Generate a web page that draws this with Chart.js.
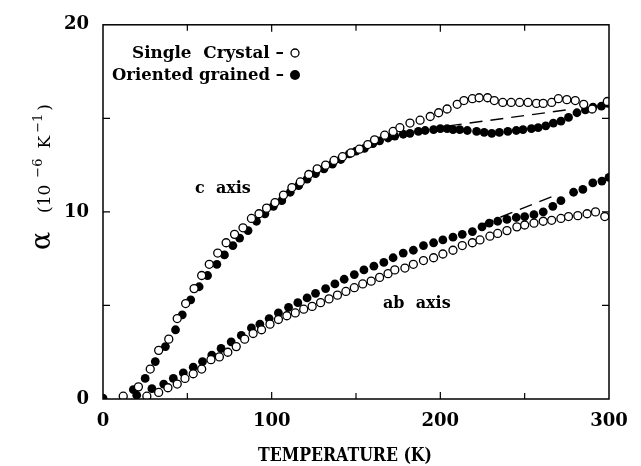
<!DOCTYPE html>
<html lang="en">
<head>
<meta charset="UTF-8" />
<title>Thermal expansion</title>
<style>
  body { margin: 0; background: #fff; }
  #wrapper { width: 641px; height: 466px; }
</style>
</head>
<body>
<div id="wrapper">
  <canvas id="chart" width="641" height="466"></canvas>
</div>
<script src="https://cdn.jsdelivr.net/npm/chart.js@4/dist/chart.umd.min.js"></script>
<script>
// c axis, single crystal (open circles)
const tSingleC = [12, 21, 28, 33, 39, 44, 49, 54, 58.5, 63, 68, 73, 78, 83, 88, 92.5, 97, 102, 107, 112, 117, 122, 127, 132, 137, 142, 147, 152, 157, 161, 167, 172, 176, 182, 188, 194, 199, 204, 210, 214, 219, 223, 228, 232, 237, 242, 247, 252, 257, 261, 266, 270, 275, 280, 285, 290, 299];
const aSingleC = [0.15, 0.65, 1.6, 2.6, 3.2, 4.3, 5.1, 5.9, 6.6, 7.2, 7.8, 8.35, 8.8, 9.15, 9.65, 9.9, 10.2, 10.5, 10.9, 11.3, 11.6, 12.0, 12.3, 12.5, 12.75, 12.95, 13.15, 13.35, 13.6, 13.85, 14.1, 14.3, 14.5, 14.75, 14.9, 15.1, 15.3, 15.5, 15.75, 15.95, 16.05, 16.1, 16.1, 15.95, 15.85, 15.85, 15.85, 15.85, 15.8, 15.8, 15.85, 16.05, 16.0, 15.95, 15.75, 15.5, 15.9];

// c axis, oriented grained (filled)
const tGrainC = [18, 25, 31, 37, 43, 47, 52, 57, 62, 67.5, 72, 77, 81, 86, 91, 96, 101, 106, 111, 116, 121, 126, 131, 136, 141, 146, 150, 155, 160, 164, 169, 173, 178, 182, 187, 191, 196, 200, 204, 207.5, 211.5, 216, 221.5, 226, 230.5, 235, 240, 245, 249, 254, 258, 262.5, 267, 271.5, 276, 281, 286, 290.5, 295.5, 299.5];
const aGrainC = [0.5, 1.1, 2.0, 2.8, 3.7, 4.5, 5.3, 6.0, 6.6, 7.2, 7.7, 8.2, 8.6, 9.0, 9.5, 9.9, 10.3, 10.6, 11.05, 11.4, 11.75, 12.05, 12.3, 12.55, 12.8, 13.1, 13.25, 13.4, 13.65, 13.8, 13.95, 14.05, 14.15, 14.2, 14.3, 14.35, 14.4, 14.45, 14.45, 14.4, 14.4, 14.35, 14.3, 14.25, 14.2, 14.25, 14.3, 14.35, 14.4, 14.45, 14.5, 14.6, 14.75, 14.85, 15.05, 15.3, 15.45, 15.6, 15.65, 15.8];

// ab axis, single crystal (open)
const tSingleAB = [26, 33, 38.5, 44, 48.6, 53.5, 58.5, 64, 69, 74, 79, 84, 89, 94, 99, 104, 109, 114, 119, 124, 129, 134, 139, 144, 149, 154, 159, 164, 169, 173, 179, 184, 190, 196, 201.5, 207.5, 213, 219, 223.5, 229.4, 234, 239.5, 245.4, 250, 255.5, 261, 266, 271.5, 276, 281.5, 287, 292, 297.5];
const aSingleAB = [0.15, 0.35, 0.6, 0.8, 1.1, 1.35, 1.6, 2.1, 2.25, 2.5, 2.8, 3.2, 3.5, 3.7, 4.0, 4.25, 4.45, 4.6, 4.8, 4.95, 5.15, 5.35, 5.55, 5.75, 5.95, 6.15, 6.3, 6.5, 6.7, 6.9, 7.0, 7.2, 7.4, 7.55, 7.75, 7.95, 8.2, 8.35, 8.5, 8.7, 8.85, 9.0, 9.2, 9.3, 9.4, 9.5, 9.55, 9.65, 9.75, 9.8, 9.9, 10.0, 9.75];

// ab axis, oriented grained (filled)
const tGrainAB = [0, 20, 29, 36, 41.7, 47.6, 53.5, 59, 64.5, 70, 76, 82, 88, 93, 98.5, 104, 110, 115.5, 121, 126, 132, 137.5, 143, 149, 154.7, 160.6, 166.5, 172, 178, 184, 190, 196, 201.5, 207.5, 213, 219, 224.7, 229, 234, 239.5, 245, 250, 255.5, 261, 266.7, 271.5, 279, 284.5, 290.4, 295.8, 300];
const aGrainAB = [0.05, 0.2, 0.55, 0.8, 1.1, 1.4, 1.7, 2.0, 2.35, 2.7, 3.05, 3.4, 3.8, 4.0, 4.3, 4.6, 4.9, 5.15, 5.4, 5.65, 5.9, 6.15, 6.4, 6.65, 6.9, 7.1, 7.3, 7.55, 7.8, 7.95, 8.2, 8.35, 8.5, 8.65, 8.8, 8.95, 9.2, 9.4, 9.5, 9.6, 9.7, 9.75, 9.85, 10.0, 10.3, 10.6, 11.05, 11.2, 11.55, 11.65, 11.85];

// dashed guide lines
const tDashC = [205, 279];
const aDashC = [14.6, 15.5];
const tDashAB = [224, 270];
const aDashAB = [9.3, 10.95];

const xTicks = [0, 100, 200, 300];
const yTicks = [0, 10, 20];

const serif = '"DejaVu Serif", serif';

function pts(xs, ys) {
  return xs.map((x, i) => ({ x: x, y: ys[i] }));
}

function openSet(xs, ys) {
  return {
    data: pts(xs, ys), showLine: false, pointRadius: 4, pointBorderWidth: 1.3,
    pointBackgroundColor: "#fff", pointBorderColor: "#000"
  };
}
function filledSet(xs, ys) {
  return {
    data: pts(xs, ys), showLine: false, pointRadius: 4.4, pointBorderWidth: 0,
    pointBackgroundColor: "#000", pointBorderColor: "#000"
  };
}
function dashSet(xs, ys) {
  return {
    data: pts(xs, ys), showLine: true, pointRadius: 0, borderColor: "#000",
    borderWidth: 1.4, borderDash: [13, 8]
  };
}

// frame, inside ticks and text labels
const decor = {
  id: "decor",
  afterDatasetsDraw(chart) {
    const ctx = chart.ctx;
    const a = chart.chartArea;
    const xs = chart.scales.x, ys = chart.scales.y;
    ctx.save();
    ctx.strokeStyle = "#000";
    ctx.lineWidth = 1.5;
    ctx.strokeRect(a.left, a.top, a.right - a.left, a.bottom - a.top);

    ctx.lineWidth = 1.2;
    ctx.beginPath();
    [50, 100, 150, 200, 250].forEach(v => {
      const px = xs.getPixelForValue(v);
      const len = v % 100 === 0 ? 7 : 6;
      ctx.moveTo(px, a.bottom); ctx.lineTo(px, a.bottom - len);
      ctx.moveTo(px, a.top); ctx.lineTo(px, a.top + len);
    });
    [5, 10, 15].forEach(v => {
      const py = ys.getPixelForValue(v);
      ctx.moveTo(a.left, py); ctx.lineTo(a.left + 7, py);
      ctx.moveTo(a.right, py); ctx.lineTo(a.right - 7, py);
    });
    ctx.stroke();

    ctx.fillStyle = "#000";
    ctx.textBaseline = "alphabetic";

    // legend
    ctx.font = "bold 17px " + serif;
    ctx.textAlign = "right";
    ctx.fillText("Single  Crystal \u2013", 284, 58, 152);
    ctx.fillText("Oriented grained \u2013", 284, 80, 172);
    ctx.beginPath();
    ctx.arc(295, 53, 4, 0, Math.PI * 2);
    ctx.fillStyle = "#fff"; ctx.fill();
    ctx.lineWidth = 1.3; ctx.stroke();
    ctx.fillStyle = "#000";
    ctx.beginPath();
    ctx.arc(295, 75, 5, 0, Math.PI * 2);
    ctx.fill();

    // curve labels
    ctx.textAlign = "left";
    ctx.font = "bold 16px " + serif;
    ctx.fillText("c  axis", 195, 193, 63);
    ctx.fillText("ab  axis", 383, 308, 73);

    // x title
    ctx.textAlign = "center";
    ctx.font = "bold 18px " + serif;
    ctx.fillText("TEMPERATURE (K)", 345, 461, 174);

    // y title, rotated
    ctx.translate(50, 250);
    ctx.rotate(-Math.PI / 2);
    ctx.textAlign = "left";
    ctx.font = "27px " + serif;
    ctx.fillText("\u03B1", 0, 0);
    let x = 37;
    const part = (txt, size, raise, gap) => {
      ctx.font = size + "px " + serif;
      ctx.fillText(txt, x, -raise);
      x += ctx.measureText(txt).width + gap;
    };
    part("(10", 17, 0, 7);
    part("\u22126", 13, 8, 10);
    part("K", 17, 0, 3);
    part("\u22121", 13, 8, 3);
    part(")", 17, 0, 0);
    ctx.restore();
  }
};

new Chart("chart", {
  type: "scatter",
  data: {
    datasets: [
      dashSet(tDashC, aDashC),
      dashSet(tDashAB, aDashAB),
      openSet(tSingleC, aSingleC),
      filledSet(tGrainC, aGrainC),
      openSet(tSingleAB, aSingleAB),
      filledSet(tGrainAB, aGrainAB)
    ]
  },
  options: {
    responsive: false,
    animation: false,
    layout: { padding: { left: 0, top: 18, right: 32, bottom: 0 } },
    plugins: { legend: { display: false }, tooltip: { enabled: false } },
    scales: {
      x: {
        type: "linear", min: 0, max: 300,
        afterFit: s => { s.height = 67; },
        grid: { display: false, drawTicks: false },
        border: { display: false },
        afterBuildTicks: s => { s.ticks = xTicks.map(v => ({ value: v })); },
        ticks: {
          padding: 12, color: "#000", autoSkip: false, maxRotation: 0,
          font: { family: "DejaVu Serif", size: 18, weight: "bold" }
        }
      },
      y: {
        type: "linear", min: 0, max: 20,
        afterFit: s => { s.width = 103; },
        grid: { display: false, drawTicks: false },
        border: { display: false },
        afterBuildTicks: s => { s.ticks = yTicks.map(v => ({ value: v })); },
        ticks: {
          padding: 14, color: "#000",
          font: { family: "DejaVu Serif", size: 18, weight: "bold" }
        }
      }
    }
  },
  plugins: [decor]
});
</script>
</body>
</html>
